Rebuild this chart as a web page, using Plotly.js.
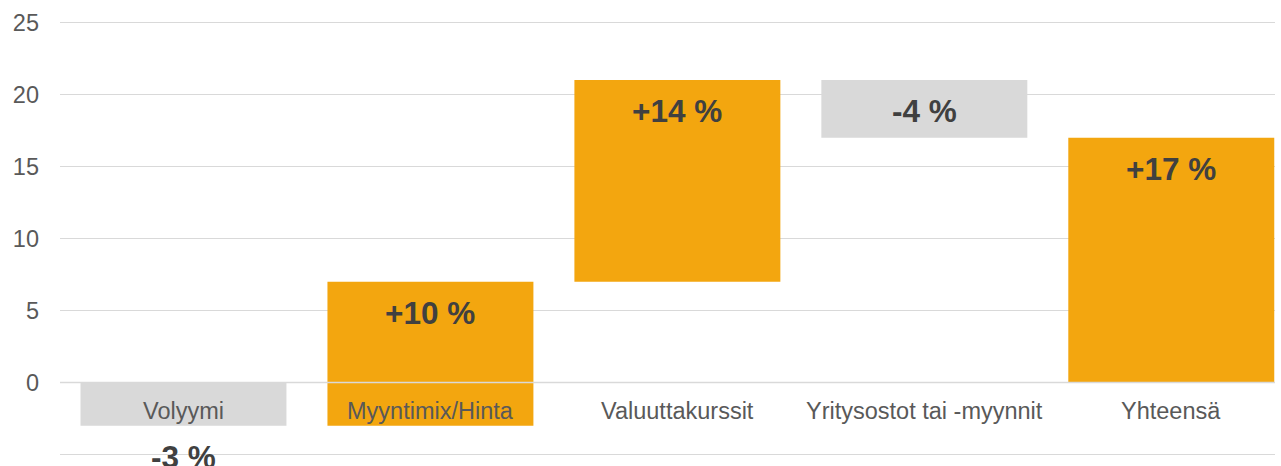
<!DOCTYPE html>
<html>
<head>
<meta charset="utf-8">
<script src="https://cdn.plot.ly/plotly-3.0.1.min.js"></script>
<style>html,body{margin:0;padding:0;background:#fff;}#chart{width:1281px;height:466px;}</style>
</head>
<body>
<div id="chart"></div>
<script>
const categories = ['Volyymi', 'Myyntimix/Hinta', 'Valuuttakurssit', 'Yritysostot tai -myynnit', 'Yhteensä'];
const changes = [-3, 10, 14, -4, 17];
const measures = ['relative', 'relative', 'relative', 'relative', 'total'];
const valueLabels = ['-3 %', '+10 %', '+14 %', '-4 %', '+17 %'];
const yTicks = [-5, 0, 5, 10, 15, 20, 25];

const ORANGE = '#F3A60F';
const GREY = '#D9D9D9';

// compute bar extents to anchor labels
let running = 0;
const annotations = [];
categories.forEach((c, i) => {
  let start, end;
  if (measures[i] === 'total') { start = 0; end = changes[i]; running = end; }
  else { start = running; end = running + changes[i]; running = end; }
  const top = Math.max(start, end), bottom = Math.min(start, end);
  const anchor = top <= 0 ? bottom : top;
  annotations.push({
    x: c, y: anchor, xref: 'x', yref: 'y', text: valueLabels[i], showarrow: false,
    yanchor: 'middle', yshift: -31,
    font: {family: 'Liberation Sans, Arial, sans-serif', size: 31.5, color: '#404040', weight: 'bold'}
  });
  annotations.push({
    x: c, y: -2, xref: 'x', yref: 'y', text: c, showarrow: false, yanchor: 'middle',
    font: {family: 'Liberation Sans, Arial, sans-serif', size: 23.5, color: '#595959'}
  });
});

const trace = {
  type: 'waterfall',
  x: categories,
  y: changes,
  measure: measures,
  increasing: {marker: {color: ORANGE}},
  decreasing: {marker: {color: GREY}},
  totals: {marker: {color: ORANGE}},
  connector: {visible: false},
  textinfo: 'none',
  hoverinfo: 'skip'
};

const layout = {
  width: 1281, height: 466,
  margin: {l: 60, r: 6, t: 21, b: 10},
  paper_bgcolor: '#fff', plot_bgcolor: '#fff',
  showlegend: false,
  waterfallgap: 0.166,
  xaxis: {
    type: 'category', range: [-0.5, 4.42], showticklabels: false, showgrid: false,
    zeroline: false, showline: false, ticks: '', fixedrange: true
  },
  yaxis: {
    range: [-5.1, 25.1], tickvals: yTicks, ticktext: yTicks.map(String),
    showgrid: true, gridcolor: GREY, gridwidth: 1.5,
    zeroline: true, zerolinecolor: GREY, zerolinewidth: 1.5, zerolinelayer: 'above traces',
    showline: false, ticks: '', ticklabelstandoff: 20,
    tickfont: {family: 'Liberation Sans, Arial, sans-serif', size: 23.5, color: '#595959'}
  },
  shapes: [{
    type: 'line', xref: 'paper', yref: 'y', x0: 0, x1: 1, y0: 0, y1: 0,
    line: {color: GREY, width: 1.5}, layer: 'above'
  }],
  annotations: annotations
};

Plotly.newPlot('chart', [trace], layout, {displayModeBar: false, staticPlot: true});
</script>
</body>
</html>
